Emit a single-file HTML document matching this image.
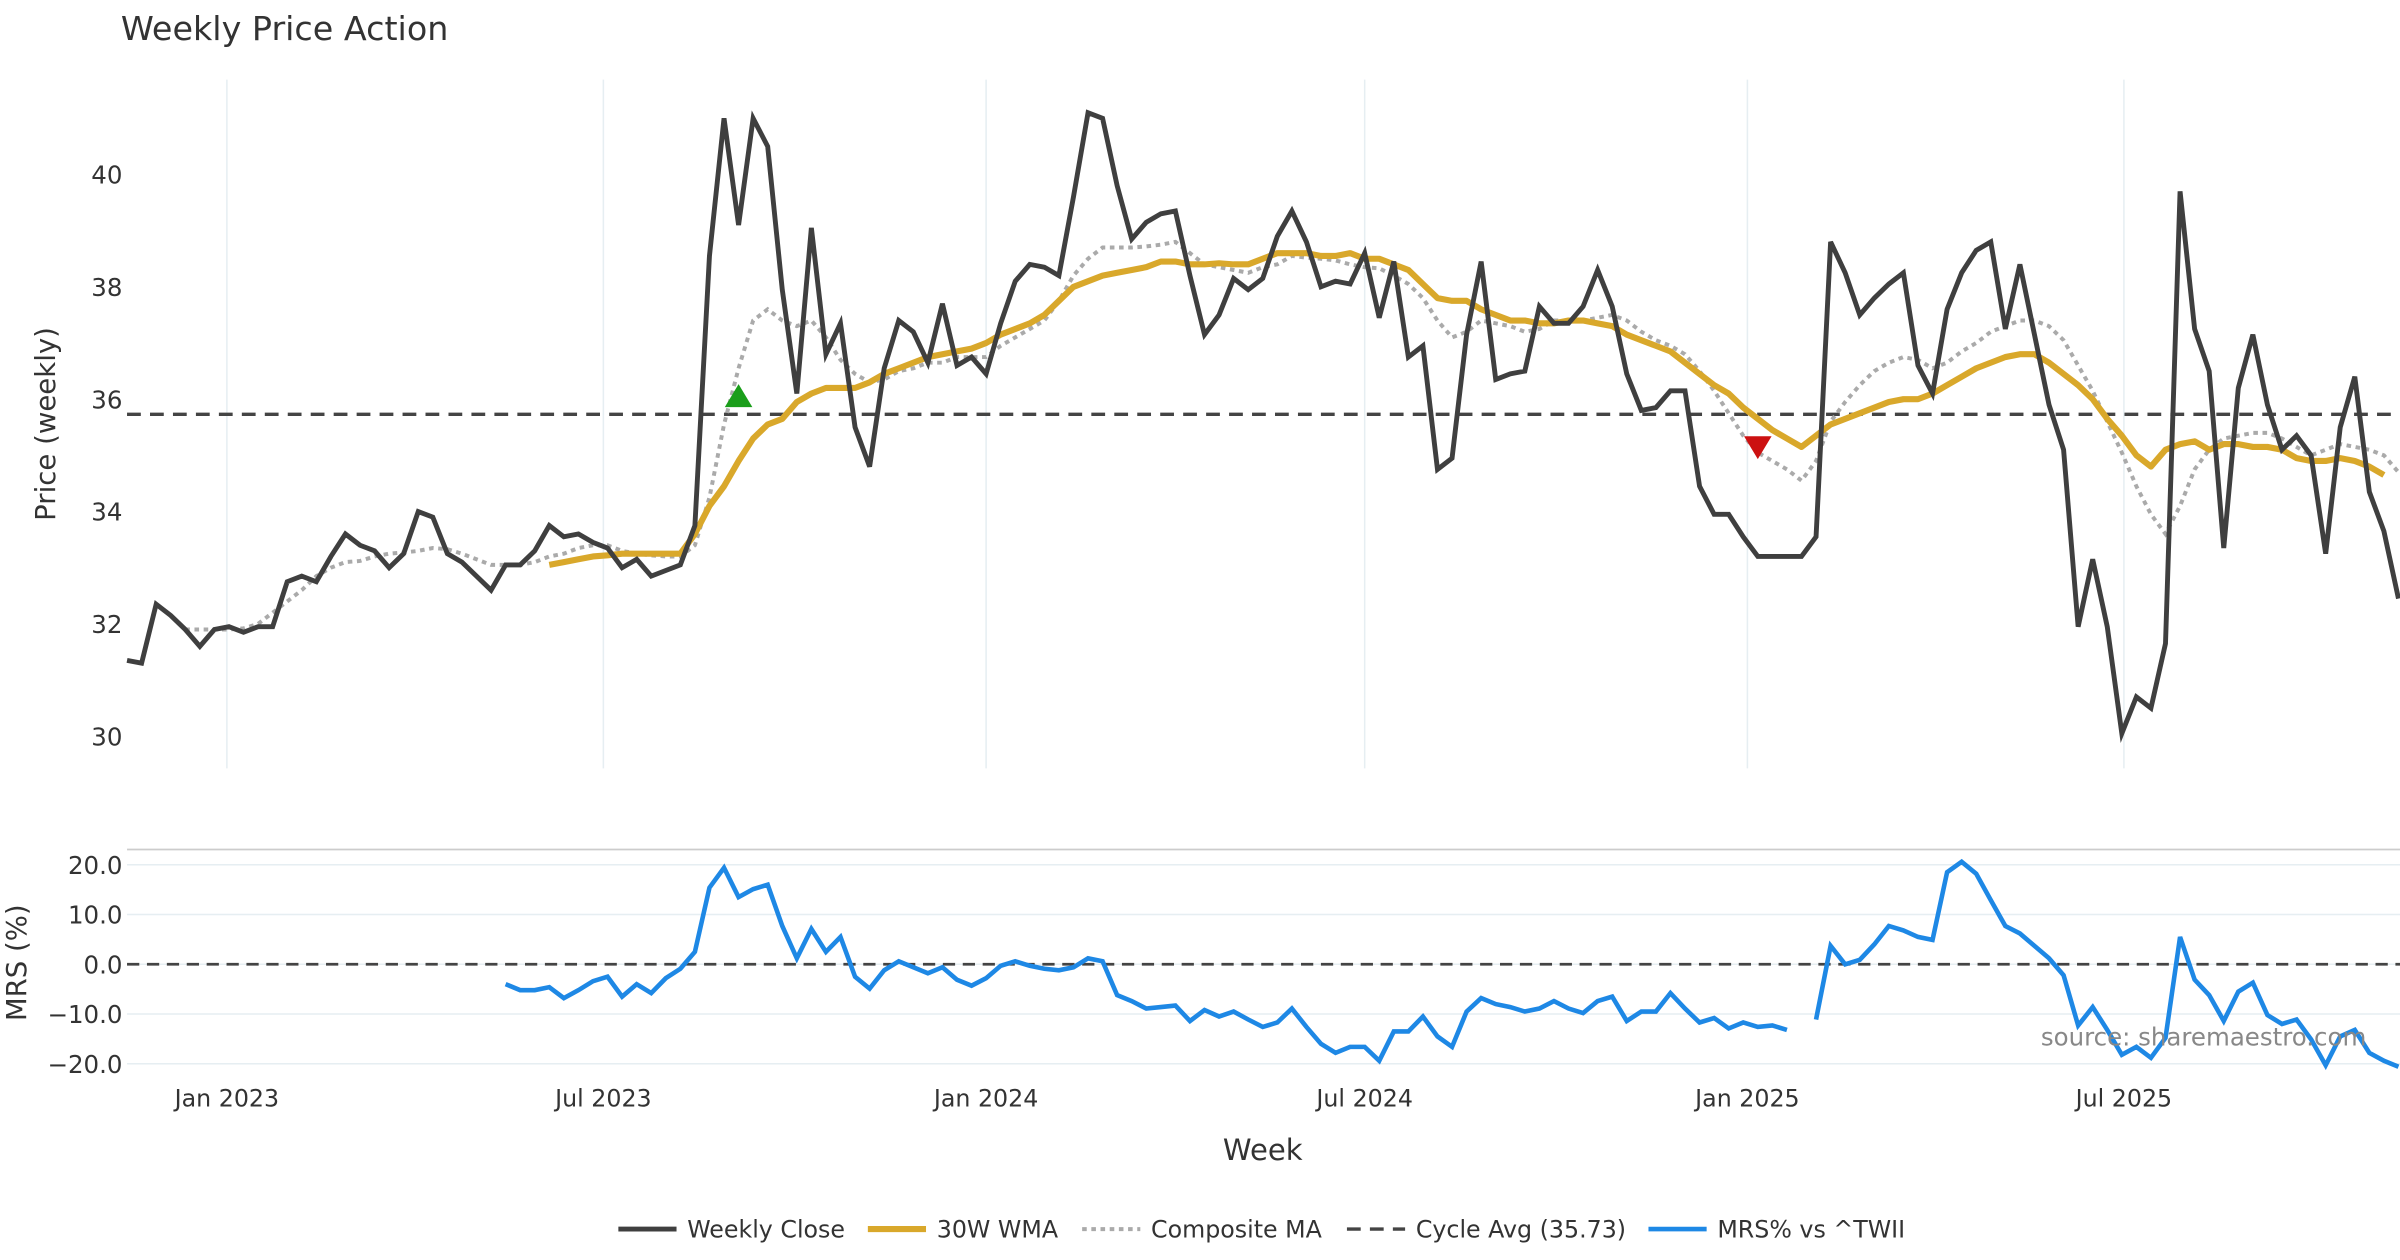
<!DOCTYPE html>
<html><head><meta charset="utf-8">
<style>
html,body{margin:0;padding:0;background:#fff;}
svg{display:block;font-family:"DejaVu Sans","Liberation Sans",sans-serif;}
</style></head>
<body>
<svg id="chart" width="2400" height="1260" viewBox="0 0 1568 823.2" xmlns="http://www.w3.org/2000/svg">
<rect width="1568" height="824" fill="#fff"/>
<text x="79" y="26" font-size="21.8" fill="#333">Weekly Price Action</text>
<g id="grid"></g>
<g id="series"></g>
<g id="axes"></g>
</svg>
<script>
const startDate = "2022-11-14";
const closeVals = [31.35,31.3,32.35,32.15,31.9,31.6,31.9,31.95,31.85,31.95,31.95,32.75,32.85,32.75,33.2,33.6,33.4,33.3,33.0,33.25,34.0,33.9,33.25,33.1,32.85,32.6,33.05,33.05,33.3,33.75,33.55,33.6,33.45,33.35,33.0,33.15,32.85,32.95,33.05,33.75,38.55,41.0,39.1,41.0,40.5,37.95,36.1,39.05,36.8,37.35,35.5,34.8,36.55,37.4,37.2,36.65,37.7,36.6,36.75,36.45,37.35,38.1,38.4,38.35,38.2,39.6,41.1,41.0,39.8,38.85,39.15,39.3,39.35,38.2,37.15,37.5,38.15,37.95,38.15,38.9,39.35,38.8,38.0,38.1,38.05,38.6,37.45,38.45,36.75,36.95,34.75,34.95,37.15,38.45,36.35,36.45,36.5,37.65,37.35,37.35,37.65,38.3,37.65,36.45,35.8,35.85,36.15,36.15,34.45,33.95,33.95,33.55,33.2,33.2,33.2,33.2,33.55,38.8,38.25,37.5,37.8,38.05,38.25,36.6,36.1,37.6,38.25,38.65,38.8,37.25,38.4,37.15,35.9,35.1,31.95,33.15,31.95,30.05,30.7,30.5,31.65,39.7,37.25,36.5,33.35,36.2,37.15,35.9,35.1,35.35,35.0,33.25,35.5,36.4,34.35,33.65,32.45];
const wmaStart = 29;
const wmaVals = [33.05,33.1,33.15,33.2,33.22,33.25,33.25,33.25,33.25,33.25,33.6,34.1,34.45,34.9,35.3,35.55,35.65,35.95,36.1,36.2,36.2,36.2,36.3,36.45,36.55,36.65,36.75,36.8,36.85,36.9,37.0,37.15,37.25,37.35,37.5,37.75,38.0,38.1,38.2,38.25,38.3,38.35,38.45,38.45,38.4,38.4,38.42,38.4,38.4,38.5,38.6,38.6,38.6,38.55,38.55,38.6,38.5,38.5,38.4,38.3,38.05,37.8,37.75,37.75,37.6,37.5,37.4,37.4,37.35,37.35,37.4,37.4,37.35,37.3,37.15,37.05,36.95,36.85,36.65,36.45,36.25,36.1,35.85,35.65,35.45,35.3,35.15,35.35,35.55,35.65,35.75,35.85,35.95,36.0,36.0,36.1,36.25,36.4,36.55,36.65,36.75,36.8,36.8,36.65,36.45,36.25,36.0,35.65,35.35,35.0,34.8,35.1,35.2,35.25,35.1,35.2,35.2,35.15,35.15,35.1,34.95,34.9,34.9,34.95,34.9,34.8,34.65];
const compStart = 4;
const compVals = [31.9,31.9,31.9,31.9,31.92,32.0,32.2,32.4,32.6,32.85,33.0,33.1,33.12,33.2,33.25,33.27,33.3,33.35,33.33,33.25,33.15,33.05,33.05,33.05,33.1,33.2,33.25,33.35,33.4,33.4,33.3,33.25,33.22,33.2,33.2,33.4,34.25,35.55,36.55,37.4,37.6,37.4,37.3,37.4,37.1,36.7,36.45,36.3,36.35,36.5,36.55,36.65,36.65,36.75,36.75,36.75,36.95,37.1,37.25,37.4,37.75,38.2,38.5,38.7,38.7,38.7,38.72,38.75,38.8,38.6,38.4,38.35,38.3,38.25,38.35,38.4,38.55,38.52,38.5,38.47,38.4,38.35,38.33,38.2,38.05,37.8,37.4,37.1,37.2,37.4,37.35,37.3,37.2,37.25,37.4,37.4,37.4,37.45,37.5,37.4,37.2,37.05,36.95,36.8,36.5,36.15,35.75,35.35,35.05,34.9,34.75,34.55,34.9,35.6,35.95,36.25,36.5,36.65,36.75,36.7,36.55,36.65,36.85,37.0,37.2,37.3,37.4,37.4,37.3,37.05,36.6,36.15,35.6,35.05,34.45,33.95,33.6,34.1,34.75,35.1,35.3,35.35,35.4,35.4,35.3,35.15,35.0,35.1,35.2,35.15,35.1,35.0,34.7];
const mrsStart = 26;
const mrsVals = [-4.0,-5.2,-5.2,-4.6,-6.8,-5.2,-3.4,-2.5,-6.5,-4.0,-5.8,-2.8,-0.9,2.5,15.4,19.4,13.5,15.1,16.0,7.7,1.2,7.1,2.5,5.5,-2.5,-4.9,-1.2,0.6,-0.6,-1.8,-0.6,-3.1,-4.3,-2.8,-0.3,0.6,-0.3,-0.9,-1.2,-0.6,1.2,0.6,-6.2,-7.4,-8.9,-8.6,-8.3,-11.4,-9.2,-10.5,-9.5,-11.1,-12.6,-11.7,-8.9,-12.6,-16.0,-17.8,-16.6,-16.6,-19.4,-13.5,-13.5,-10.5,-14.5,-16.6,-9.5,-6.8,-8.0,-8.6,-9.5,-8.9,-7.4,-8.9,-9.8,-7.4,-6.5,-11.4,-9.5,-9.5,-5.8,-8.9,-11.7,-10.8,-12.9,-11.7,-12.6,-12.3,-13.2,null,-11.1,3.7,0.0,0.9,4.0,7.7,6.8,5.5,4.9,18.5,20.6,18.2,12.9,7.7,6.2,3.7,1.2,-2.2,-12.3,-8.6,-13.2,-18.2,-16.6,-18.8,-14.8,5.5,-3.1,-6.2,-11.4,-5.5,-3.7,-10.2,-12.0,-11.1,-15.1,-20.3,-14.5,-13.2,-17.8,-19.4,-20.6];
const cycleAvg = 35.73;
const priceTicks = [30,32,34,36,38,40];
const mrsTicks = [20,10,0,-10,-20];
const dateTicks = ["2023-01-01","2023-07-01","2024-01-01","2024-07-01","2025-01-01","2025-07-01"];
const dateTickLabels = ["Jan 2023","Jul 2023","Jan 2024","Jul 2024","Jan 2025","Jul 2025"];
const upSignalIdx = 42, upSignalVal = 36.05;
const downSignalIdx = 112, downSignalVal = 35.15;

const NS = "http://www.w3.org/2000/svg";
const DAY = 86400000;
const t0 = Date.parse(startDate);
const nWeeks = closeVals.length;
const X0 = 83, X1 = 1567;
const pxPerDay = (X1 - X0) / ((nWeeks - 1) * 7);
function xDate(d){ return X0 + (Date.parse(d) - t0) / DAY * pxPerDay; }
function xIdx(i){ return X0 + i * 7 * pxPerDay; }
function yP(v){ return 114 + (40 - v) * 36.7; }
function yM(v){ return 630 - v * 3.25; }
function mk(tag, attrs, parent){ const e = document.createElementNS(NS, tag); for (const k in attrs) e.setAttribute(k, attrs[k]); parent.appendChild(e); return e; }
const grid = document.getElementById('grid');
const ser = document.getElementById('series');
const axes = document.getElementById('axes');

dateTicks.forEach((d, i) => {
  const x = xDate(d);
  const g1 = mk('line', {x1:x, x2:x, y1:52, y2:502, stroke:'#e6eef2', 'stroke-width':1}, grid);
  
  
  const t = mk('text', {x:x, y:723, 'font-size':15.5, fill:'#333', 'text-anchor':'middle'}, axes);
  t.textContent = dateTickLabels[i];
  
  
});
priceTicks.forEach(v => {
  const t = mk('text', {x:80, y:yP(v)+6, 'font-size':16, fill:'#333', 'text-anchor':'end'}, axes);
  t.textContent = v;
  
  
});
mrsTicks.forEach(v => {
  const l = mk('line', {x1:83, x2:1568, y1:yM(v), y2:yM(v), stroke:'#e6eef2', 'stroke-width':1}, grid);
  
  
  const t = mk('text', {x:80, y:yM(v)+6, 'font-size':16, fill:'#333', 'text-anchor':'end'}, axes);
  t.textContent = (v < 0 ? '\u2212' + Math.abs(v).toFixed(1) : v.toFixed(1));
  
  
});
const sep = mk('line', {x1:83, x2:1568, y1:555, y2:555, stroke:'#ccc', 'stroke-width':1.2}, grid);



function pathFrom(vals, start, yf){
  let d = '', pen = false;
  vals.forEach((v, i) => {
    if (v === null) { pen = false; return; }
    d += (pen ? 'L' : 'M') + xIdx(start + i).toFixed(2) + ',' + yf(v).toFixed(2);
    pen = true;
  });
  return d;
}
const cyc = mk('line', {x1:83, x2:1568, y1:yP(cycleAvg), y2:yP(cycleAvg), stroke:'#444', 'stroke-width':2.2, 'stroke-dasharray':'9,6'}, ser);


const comp = mk('path', {d:pathFrom(compVals, compStart, yP), fill:'none', stroke:'#aaa', 'stroke-width':2.6, 'stroke-dasharray':'3,3'}, ser);


const wma = mk('path', {d:pathFrom(wmaVals, wmaStart, yP), fill:'none', stroke:'#d9a82b', 'stroke-width':4, 'stroke-linejoin':'round'}, ser);


const cl = mk('path', {d:pathFrom(closeVals, 0, yP), fill:'none', stroke:'#3f3f3f', 'stroke-width':3.2, 'stroke-linejoin':'miter'}, ser);


{
  const x = xIdx(upSignalIdx), y = yP(upSignalVal);
  const up = mk('polygon', {points:`${x-9},${y+7} ${x+9},${y+7} ${x},${y-8}`, fill:'#1a9e1a'}, ser);
  
  
  const x2 = xIdx(downSignalIdx), y2 = yP(downSignalVal);
  const dn = mk('polygon', {points:`${x2-9},${y2-7} ${x2+9},${y2-7} ${x2},${y2+8}`, fill:'#cc1111'}, ser);
  
  
}
const zl = mk('line', {x1:83, x2:1568, y1:yM(0), y2:yM(0), stroke:'#444', 'stroke-width':1.8, 'stroke-dasharray':'8,5'}, ser);


const mrs = mk('path', {d:pathFrom(mrsVals, mrsStart, yM), fill:'none', stroke:'#1e88e5', 'stroke-width':3}, ser);


</script>
<svg style="position:absolute;left:0;top:0" width="2400" height="1260" viewBox="0 0 1568 823.2" xmlns="http://www.w3.org/2000/svg" font-family="DejaVu Sans, Liberation Sans, sans-serif">
<text transform="translate(36,277) rotate(-90)" text-anchor="middle" font-size="18" fill="#333">Price (weekly)</text>
<text transform="translate(17,629) rotate(-90)" text-anchor="middle" font-size="18" fill="#333">MRS (%)</text>
<text x="825" y="758" text-anchor="middle" font-size="19" fill="#333">Week</text>
<text x="1546" y="683" text-anchor="end" font-size="16" fill="#888">source: sharemaestro.com</text>
<g font-size="15.5" fill="#333">
<line x1="404" x2="442" y1="803" y2="803" stroke="#3f3f3f" stroke-width="3.2"/><text x="449" y="808.5">Weekly Close</text>
<line x1="567" x2="605" y1="803" y2="803" stroke="#d9a82b" stroke-width="4"/><text x="612" y="808.5">30W WMA</text>
<line x1="707" x2="745" y1="803" y2="803" stroke="#aaa" stroke-width="2.6" stroke-dasharray="3,3"/><text x="752" y="808.5">Composite MA</text>
<line x1="880" x2="918" y1="803" y2="803" stroke="#444" stroke-width="2.2" stroke-dasharray="9,6"/><text x="925" y="808.5">Cycle Avg (35.73)</text>
<line x1="1077" x2="1115" y1="803" y2="803" stroke="#1e88e5" stroke-width="3"/><text x="1122" y="808.5">MRS% vs ^TWII</text>
</g>
</svg>
</body></html>
